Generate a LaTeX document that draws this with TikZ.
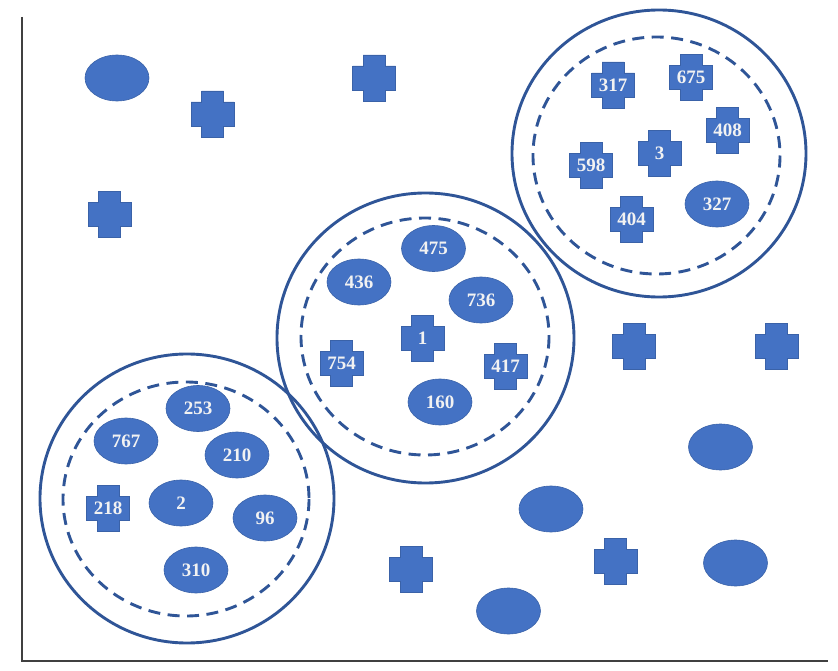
\documentclass[tikz,border=0pt]{standalone}
\usepackage{fontspec}
\setmainfont{Liberation Serif}
\usetikzlibrary{shapes.geometric,calc}
\definecolor{shapeblue}{HTML}{4472C4}
\definecolor{shapeedge}{HTML}{3A62A8}
\definecolor{ringblue}{HTML}{2F5597}
\definecolor{labelwhite}{HTML}{F2F2F2}
\tikzset{
  lbl/.style={text=labelwhite, font=\fontsize{19}{19}\selectfont\bfseries},
  ovalbox/.style={ellipse, fill=shapeblue, draw=shapeedge, line width=0.6pt,
    minimum width=64pt, minimum height=46pt, inner sep=0pt, lbl},
  plusbox/.style={inner sep=0pt, lbl},
  plusfill/.style={fill=shapeblue, draw=shapeedge, line width=0.6pt},
  ring/.style={draw=ringblue, line width=2.9pt},
  dashring/.style={draw=ringblue, line width=2.9pt, dash pattern=on 12pt off 7.5pt},
  axisline/.style={draw=black!75, line width=1.2pt}
}
\newcommand\mkplus[3]{%
  \coordinate (#1c) at (#2);
  \path[plusfill] ($(#1c)+(-11,-23)$) -- ++(22,0) -- ++(0,11) -- ++(10.5,0)
    -- ++(0,24) -- ++(-10.5,0) -- ++(0,11) -- ++(-22,0) -- ++(0,-11)
    -- ++(-10.5,0) -- ++(0,-24) -- ++(10.5,0) -- cycle;
  \node[plusbox] (#1) at (#1c) {#3};
}
\begin{document}
\begin{tikzpicture}[x=1pt,y=-1pt]
\useasboundingbox (0,0) rectangle (838,671);
% axes
\coordinate (ytop) at (22,17);
\coordinate (origin) at (22,661);
\coordinate (xend) at (828,661);
\draw[axisline] (ytop) -- (origin) -- (xend);

% rings
\draw[ring] (659,153.5) ellipse [x radius=147, y radius=143.5];
\draw[dashring] (656.5,155.5) ellipse [x radius=123.5, y radius=118.5];
\draw[ring] (425.5,338) ellipse [x radius=148.5, y radius=145];
\draw[dashring] (425,336.5) ellipse [x radius=124, y radius=118.5];
\draw[ring] (187,498.5) ellipse [x radius=147, y radius=144.5];
\draw[dashring] (186,499) ellipse [x radius=123, y radius=117];

% free shapes
\node[ovalbox] (o1) at (117,78) {};
\mkplus{p1}{212.5,114}{}
\mkplus{p2}{109.5,214.5}{}
\mkplus{p3}{374,78}{}
\mkplus{p4}{634,346.5}{}
\mkplus{p5}{776.5,346.5}{}
\node[ovalbox] (o2) at (720.5,447) {};
\node[ovalbox] (o3) at (551,509) {};
\mkplus{p6}{411,569.5}{}
\node[ovalbox] (o4) at (508.5,611) {};
\mkplus{p7}{615.5,561.5}{}
\node[ovalbox] (o5) at (735.5,563) {};

% top-right cluster
\mkplus{n317}{613,85}{317}
\mkplus{n675}{691,77.5}{675}
\mkplus{n408}{727.5,130.5}{408}
\mkplus{n3}{659.5,153.5}{3}
\mkplus{n598}{591,165.5}{598}
\mkplus{n404}{631.5,219.5}{404}
\node[ovalbox] (n327) at (717,204) {327};

% middle cluster
\node[ovalbox] (n475) at (433.5,248.5) {475};
\node[ovalbox] (n436) at (359,282) {436};
\node[ovalbox] (n736) at (481,300) {736};
\mkplus{n1}{422.5,338}{1}
\mkplus{n754}{341.5,363.5}{754}
\mkplus{n417}{505.5,366.5}{417}
\node[ovalbox] (n160) at (440,402) {160};

% bottom-left cluster
\node[ovalbox] (n253) at (198,408.5) {253};
\node[ovalbox] (n767) at (126,441) {767};
\node[ovalbox] (n210) at (237,455) {210};
\node[ovalbox] (n2) at (181,503) {2};
\mkplus{n218}{108,508.5}{218}
\node[ovalbox] (n96) at (265,518) {96};
\node[ovalbox] (n310) at (196,570) {310};
\end{tikzpicture}
\end{document}
